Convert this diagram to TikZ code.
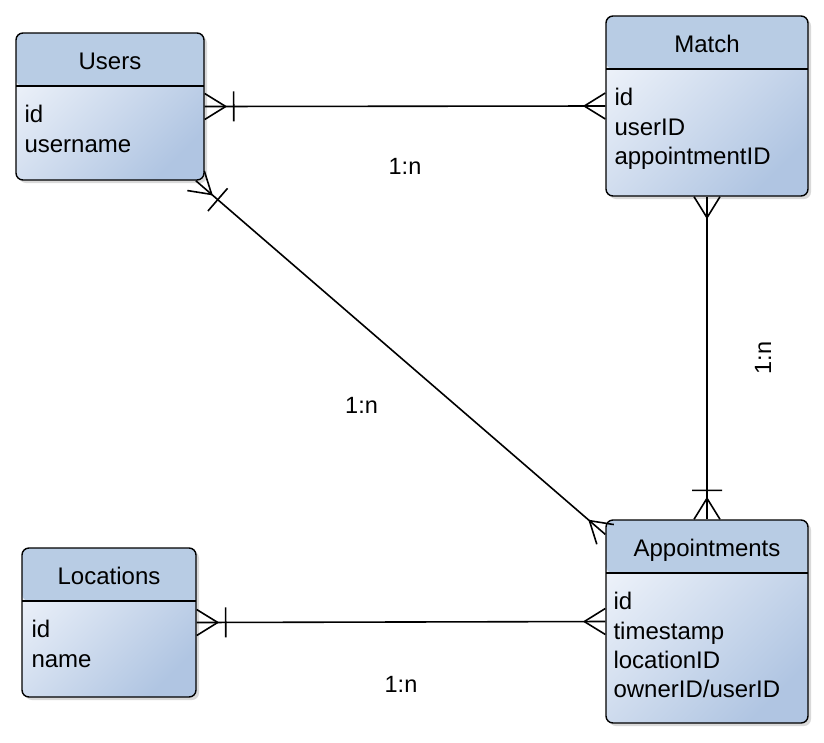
\documentclass[tikz,border=0pt]{standalone}
\usepackage{fontspec}
\setmainfont{Liberation Sans}
\usetikzlibrary{positioning}
\usetikzlibrary{shadows}

\definecolor{headcol}{RGB}{184,204,228}
\definecolor{bodylight}{RGB}{236,241,249}
\definecolor{bodydark}{RGB}{176,197,226}

% crow's foot ends, the line runs on to the box
\pgfdeclarearrow{
  name = crow,
  setup code = {
    \pgfarrowssettipend{0pt}
    \pgfarrowssetlineend{0pt}
    \pgfarrowssetbackend{-21pt}
    \pgfarrowssetvisualbackend{-21pt}
    \pgfarrowsupperhullpoint{0pt}{13pt}
    \pgfarrowsupperhullpoint{-21pt}{0pt}
  },
  drawing code = {
    \pgfsetdash{}{0pt}
    \pgfsetlinewidth{1.6pt}
    \pgfsetroundjoin
    \pgfpathmoveto{\pgfqpoint{0pt}{13pt}}
    \pgfpathlineto{\pgfqpoint{-21pt}{0pt}}
    \pgfpathlineto{\pgfqpoint{0pt}{-13pt}}
    \pgfusepathqstroke
  }
}
% crow's foot with a bar
\pgfdeclarearrow{
  name = crowbar,
  setup code = {
    \pgfarrowssettipend{0pt}
    \pgfarrowssetlineend{0pt}
    \pgfarrowssetbackend{-29pt}
    \pgfarrowssetvisualbackend{-29pt}
    \pgfarrowsupperhullpoint{0pt}{15pt}
    \pgfarrowsupperhullpoint{-29pt}{15pt}
  },
  drawing code = {
    \pgfsetdash{}{0pt}
    \pgfsetlinewidth{1.6pt}
    \pgfsetroundjoin
    \pgfpathmoveto{\pgfqpoint{0pt}{13pt}}
    \pgfpathlineto{\pgfqpoint{-21pt}{0pt}}
    \pgfpathlineto{\pgfqpoint{0pt}{-13pt}}
    \pgfpathmoveto{\pgfqpoint{-29pt}{15pt}}
    \pgfpathlineto{\pgfqpoint{-29pt}{-15pt}}
    \pgfusepathqstroke
  }
}

\tikzset{
        % Entity boxes
        entity/.style={draw=black, line width=1.4pt, rounded corners=7pt,
            top color=bodylight, bottom color=bodydark, shading angle=45,
            drop shadow={shadow xshift=3pt, shadow yshift=-3pt, opacity=0.3},
            path picture={
                \fill[headcol] (path picture bounding box.north west) rectangle ([yshift=-53pt]path picture bounding box.north east);
                \draw[line width=1.4pt] ([yshift=-53pt]path picture bounding box.north west) -- ([yshift=-53pt]path picture bounding box.north east);
            }},
        % Entity names
        etitle/.style={font=\fontsize{24}{28}\selectfont, inner sep=0pt, anchor=base},
        % Attribute lists
        eattrs/.style={font=\fontsize{24}{29.3}\selectfont, inner sep=0pt, align=left, anchor=north west},
        % Relation labels
        rel/.style={line width=1.6pt, black},
        rlabel/.style={font=\fontsize{23.5}{26}\selectfont, inner sep=0pt}
}

\begin{document}
\begin{tikzpicture}[x=1pt, y=-1pt]
    \useasboundingbox (0,0) rectangle (824,742);

    \node[entity, minimum width=188pt, minimum height=147pt] (users) at (110,106.5) {};
    \node[etitle] (users-title) at ([yshift=-37pt]users.north) {Users};
    \node[eattrs] (users-attrs) at ([xshift=9pt, yshift=-73pt]users.north west) {id\\username};

    \node[entity, minimum width=202pt, minimum height=180pt] (match) at (707,106) {};
    \node[etitle] (match-title) at ([yshift=-37pt]match.north) {Match};
    \node[eattrs] (match-attrs) at ([xshift=9pt, yshift=-73pt]match.north west) {id\\userID\\appointmentID};

    \node[entity, minimum width=202pt, minimum height=203pt] (appointments) at (707,621.5) {};
    \node[etitle] (appointments-title) at ([yshift=-37pt]appointments.north) {Appointments};
    \node[eattrs] (appointments-attrs) at ([xshift=8pt, yshift=-73pt]appointments.north west) {id\\timestamp\\locationID\\ownerID/userID};

    \node[entity, minimum width=174pt, minimum height=149pt] (locations) at (109,622.5) {};
    \node[etitle] (locations-title) at ([yshift=-37pt]locations.north) {Locations};
    \node[eattrs] (locations-attrs) at ([xshift=10pt, yshift=-73pt]locations.north west) {id\\name};

    % relations
    \draw[rel, crowbar-crow] (users.east) -- (match.west)
        node[rlabel, midway, yshift=-60.5pt] (l-um) {1:n};
    \draw[rel, crowbar-crow] (users) -- (appointments)
        node[rlabel, midway, xshift=-39pt, yshift=-48pt] (l-ua) {1:n};
    \draw[rel, crow-crowbar] (match) -- (appointments)
        node[rlabel, midway, xshift=56pt, rotate=90] (l-ma) {1:n};
    \draw[rel, crowbar-crow] (locations.east) -- (appointments.west)
        node[rlabel, midway, yshift=-62pt] (l-la) {1:n};
\end{tikzpicture}
\end{document}
